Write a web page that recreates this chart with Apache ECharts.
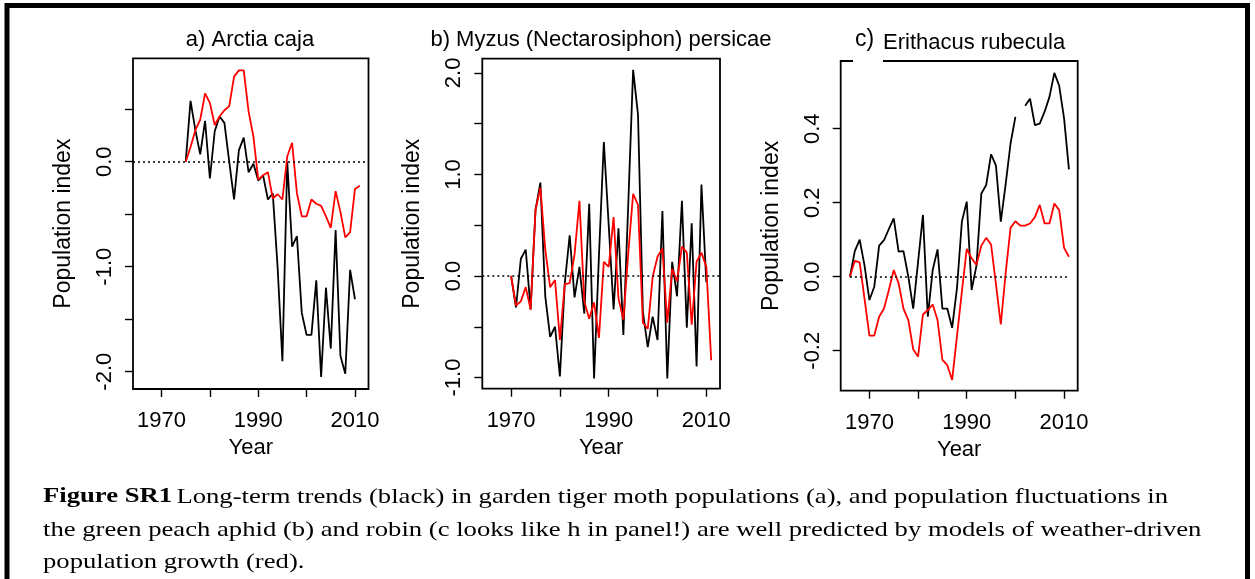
<!DOCTYPE html>
<html>
<head>
<meta charset="utf-8">
<script src="https://cdn.jsdelivr.net/npm/echarts@6/dist/echarts.min.js"></script>
<style>
html, body { margin: 0; padding: 0; background: #fff; }
#chart { width: 1255px; height: 579px; }
</style>
</head>
<body>
<div id="chart"></div>
<script>
// years on the x axis of each panel
const yearsA = [1975, 1976, 1977, 1978, 1979, 1980, 1981, 1982, 1983, 1984, 1985, 1986, 1987, 1988, 1989,
  1990, 1991, 1992, 1993, 1994, 1995, 1996, 1997, 1998, 1999, 2000, 2001, 2002, 2003, 2004, 2005, 2006,
  2007, 2008, 2009, 2010, 2011]
const yearsB = [1970, 1971, 1972, 1973, 1974, 1975, 1976, 1977, 1978, 1979, 1980, 1981, 1982, 1983, 1984,
  1985, 1986, 1987, 1988, 1989, 1990, 1991, 1992, 1993, 1994, 1995, 1996, 1997, 1998, 1999, 2000, 2001,
  2002, 2003, 2004, 2005, 2006, 2007, 2008, 2009, 2010, 2011]
const yearsC = [1966, 1967, 1968, 1969, 1970, 1971, 1972, 1973, 1974, 1975, 1976, 1977, 1978, 1979, 1980,
  1981, 1982, 1983, 1984, 1985, 1986, 1987, 1988, 1989, 1990, 1991, 1992, 1993, 1994, 1995, 1996, 1997,
  1998, 1999, 2000, 2001, 2002, 2003, 2004, 2005, 2006, 2007, 2008, 2009, 2010, 2011]

// a) Arctia caja : observed (black) 1975-2010, model (red) 1975-2011
const mothObserved = [0, 0.58, 0.3, 0.07, 0.39, -0.16, 0.29, 0.43, 0.37, 0.0, -0.36, 0.11, 0.23, -0.10, -0.02,
  -0.18, -0.13, -0.36, -0.30, -1.0, -1.90, 0.0, -0.81, -0.71, -1.44, -1.65, -1.65, -1.13, -2.05, -1.20, -1.78,
  -0.65, -1.85, -2.02, -1.03, -1.31]
const mothModel = [0, 0.14, 0.30, 0.40, 0.65, 0.56, 0.35, 0.43, 0.49, 0.53, 0.81, 0.87, 0.87, 0.48, 0.24,
  -0.17, -0.13, -0.10, -0.35, -0.31, -0.36, 0.05, 0.18, -0.30, -0.52, -0.52, -0.36, -0.40, -0.42, -0.52, -0.63,
  -0.28, -0.48, -0.72, -0.67, -0.26, -0.23]

// b) Myzus persicae : observed 1970-2010, model 1970-2011
const aphidObserved = [0, -0.31, 0.17, 0.26, -0.33, 0.65, 0.92, -0.20, -0.60, -0.50,
  -0.99, -0.07, 0.40, -0.21, 0.09, -0.37, 0.71, -1.01, 0.2, 1.32,
  0.5, -0.33, 0.47, -0.58, 0.7, 2.03, 1.59, -0.35, -0.70, -0.40,
  -0.63, 0.64, -1.01, 0.14, -0.20, 0.74, -0.51, 0.52, -0.89, 0.90, -0.06]
const aphidModel = [0, -0.29, -0.25, -0.11, -0.33, 0.65, 0.87, 0.26, -0.11, -0.04,
  -0.63, -0.08, -0.07, 0.21, 0.74, -0.25, -0.42, -0.26, -0.61, 0.14,
  0.09, 0.58, -0.22, -0.43, 0.22, 0.81, 0.70, -0.46, -0.52, -0.01,
  0.19, 0.27, -0.46, 0.07, -0.05, 0.29, 0.23, -0.48, 0.14, 0.23, 0.09, -0.83]

// c) Erithacus rubecula : 1966-2011, 2001 missing in observed
const robinObserved = [0, 0.069, 0.10, 0.03, -0.063, -0.027, 0.084, 0.099, 0.129, 0.158, 0.068, 0.069, 0.0, -0.086,
  0.04, 0.167, -0.108, 0.018, 0.074, -0.086, -0.086, -0.138, -0.03, 0.149,
  0.203, -0.036, 0.03, 0.225, 0.248, 0.331, 0.30, 0.149, 0.25, 0.36,
  0.432, null, 0.462, 0.481, 0.41, 0.414, 0.446, 0.486, 0.551, 0.516, 0.428, 0.29]
const robinModel = [0, 0.043, 0.039, -0.06, -0.159, -0.159, -0.108, -0.086, -0.036, 0.018, -0.018, -0.086, -0.117, -0.196,
  -0.216, -0.102, -0.09, -0.075, -0.117, -0.225, -0.239, -0.279, -0.16, -0.04,
  0.075, 0.05, 0.032, 0.084, 0.105, 0.087, -0.02, -0.129, 0.01, 0.132,
  0.15, 0.138, 0.138, 0.144, 0.161, 0.194, 0.144, 0.144, 0.198, 0.18, 0.078, 0.054]

// ticks and labels
const xTicks = [1970, 1980, 1990, 2000, 2010]
const xLabels = [1970, 1990, 2010]
const yTicksA = [-2, -1.5, -1, -0.5, 0, 0.5]
const yLabelsA = [-2, -1, 0]
const yTicksB = [-1, -0.5, 0, 0.5, 1, 1.5, 2]
const yLabelsB = [-1, 0, 1, 2]
const yTicksC = [-0.2, 0, 0.2, 0.4]
const yLabelsC = [-0.2, 0, 0.2, 0.4]

const FONT = '"Liberation Sans", Arial, Helvetica, sans-serif'
const SERIF = '"Liberation Serif", "Times New Roman", serif'

const myChart = echarts.init(document.getElementById('chart'))

function pairs (years, values) {
  return values.map((v, i) => [years[i], v])
}

function xAxis (gi) {
  return {
    type: 'value',
    gridIndex: gi,
    min: 1964.1,
    max: 2012.8,
    name: 'Year',
    nameLocation: 'middle',
    nameGap: 44,
    nameTextStyle: { fontSize: 22, color: '#000', fontFamily: FONT },
    axisLine: { show: false, onZero: false },
    axisTick: { show: true, length: 8, customValues: xTicks, lineStyle: { color: '#000', width: 1.4 } },
    axisLabel: {
      customValues: xLabels,
      margin: 21,
      fontSize: 22,
      color: '#000',
      fontFamily: FONT,
      formatter: (v) => String(v)
    },
    splitLine: { show: false }
  }
}

function yAxis (gi, min, max, ticks, labels) {
  return {
    type: 'value',
    gridIndex: gi,
    min: min,
    max: max,
    name: 'Population index',
    nameLocation: 'middle',
    nameGap: 58,
    nameTextStyle: { fontSize: 23, color: '#000', fontFamily: FONT },
    axisLine: { show: false, onZero: false },
    axisTick: { show: true, length: 8, customValues: ticks, lineStyle: { color: '#000', width: 1.4 } },
    axisLabel: {
      customValues: labels,
      rotate: 90,
      margin: 17,
      fontSize: 22,
      color: '#000',
      fontFamily: FONT,
      formatter: (v) => Number(v).toFixed(1)
    },
    splitLine: { show: false }
  }
}

const zeroLine = { type: [2, 3], color: '#000', width: 1.5 }

function line (gi, data, color, extra) {
  return Object.assign({
    type: 'line',
    xAxisIndex: gi,
    yAxisIndex: gi,
    data: data,
    symbol: 'none',
    connectNulls: false,
    lineStyle: { color: color, width: 1.8 },
    z: color === '#ff0000' ? 4 : 3
  }, extra || {})
}

const captionRich = {
  b: { fontFamily: SERIF, fontSize: 21, fontWeight: 'bold', fill: '#000' },
  n: { fontFamily: SERIF, fontSize: 21, fill: '#000' }
}

const option = {
  animation: false,
  backgroundColor: '#fff',
  grid: [
    { left: 133, top: 58.3, width: 235.5, height: 330.7, show: true, borderColor: '#000', borderWidth: 1.8 },
    { left: 482.3, top: 58.7, width: 237.7, height: 330, show: true, borderColor: '#000', borderWidth: 1.8 },
    { left: 840.7, top: 61, width: 237, height: 329.7, show: true, borderColor: '#000', borderWidth: 1.8 }
  ],
  xAxis: [xAxis(0), xAxis(1), xAxis(2)],
  yAxis: [
    yAxis(0, -2.165, 0.985, yTicksA, yLabelsA),
    yAxis(1, -1.11, 2.14, yTicksB, yLabelsB),
    yAxis(2, -0.308, 0.583, yTicksC, yLabelsC)
  ],
  series: [
    line(0, pairs(yearsA, mothObserved), '#000000', {
      markLine: { silent: true, symbol: 'none', label: { show: false }, lineStyle: zeroLine, data: [{ yAxis: 0 }] }
    }),
    line(0, pairs(yearsA, mothModel), '#ff0000'),
    line(1, pairs(yearsB, aphidObserved), '#000000', {
      markLine: { silent: true, symbol: 'none', label: { show: false }, lineStyle: zeroLine, data: [{ yAxis: 0 }] }
    }),
    line(1, pairs(yearsB, aphidModel), '#ff0000'),
    line(2, pairs(yearsC, robinObserved), '#000000', {
      markLine: {
        silent: true,
        symbol: 'none',
        label: { show: false },
        lineStyle: zeroLine,
        data: [[{ coord: [1966, 0] }, { coord: [2011.2, 0] }]]
      }
    }),
    line(2, pairs(yearsC, robinModel), '#ff0000')
  ],
  graphic: [
    // outer frame
    { type: 'rect', shape: { x: 7, y: 5.5, width: 1240.5, height: 620 }, style: { fill: 'none', stroke: '#000', lineWidth: 5 }, z: 10 },
    // panel titles
    { type: 'text', x: 250, y: 40, style: { text: 'a) Arctia caja', font: '22px ' + FONT, fill: '#000', align: 'center', verticalAlign: 'middle' } },
    { type: 'text', x: 601, y: 40, style: { text: 'b) Myzus (Nectarosiphon) persicae', font: '22px ' + FONT, fill: '#000', align: 'center', verticalAlign: 'middle' } },
    // the pasted "c)" label sits in a white box that hides part of the frame
    { type: 'rect', shape: { x: 853, y: 57, width: 30, height: 7 }, style: { fill: '#fff' }, z: 20 },
    { type: 'text', x: 855, y: 40, style: { text: 'c)', font: '23px ' + FONT, fill: '#000', align: 'left', verticalAlign: 'middle' }, z: 21 },
    { type: 'text', x: 883, y: 43, style: { text: 'Erithacus rubecula', font: '22px ' + FONT, fill: '#000', align: 'left', verticalAlign: 'middle' } },
    // caption (the source font runs wider than Times, hence scaleX)
    {
      type: 'text',
      x: 43,
      y: 497,
      scaleX: 1.27,
      style: {
        text: '{b|Figure SR1} {n|Long-term trends (black) in garden tiger moth populations (a), and population fluctuations in}',
        fill: '#000',
        verticalAlign: 'middle',
        rich: captionRich
      }
    },
    {
      type: 'text',
      x: 43,
      y: 530,
      scaleX: 1.27,
      style: {
        text: '{n|the green peach aphid (b) and robin (c looks like h in panel!) are well predicted by models of weather-driven}',
        fill: '#000',
        verticalAlign: 'middle',
        rich: captionRich
      }
    },
    {
      type: 'text',
      x: 43,
      y: 562,
      scaleX: 1.27,
      style: { text: '{n|population growth (red).}', fill: '#000', verticalAlign: 'middle', rich: captionRich }
    }
  ]
}

myChart.setOption(option)
</script>
</body>
</html>
